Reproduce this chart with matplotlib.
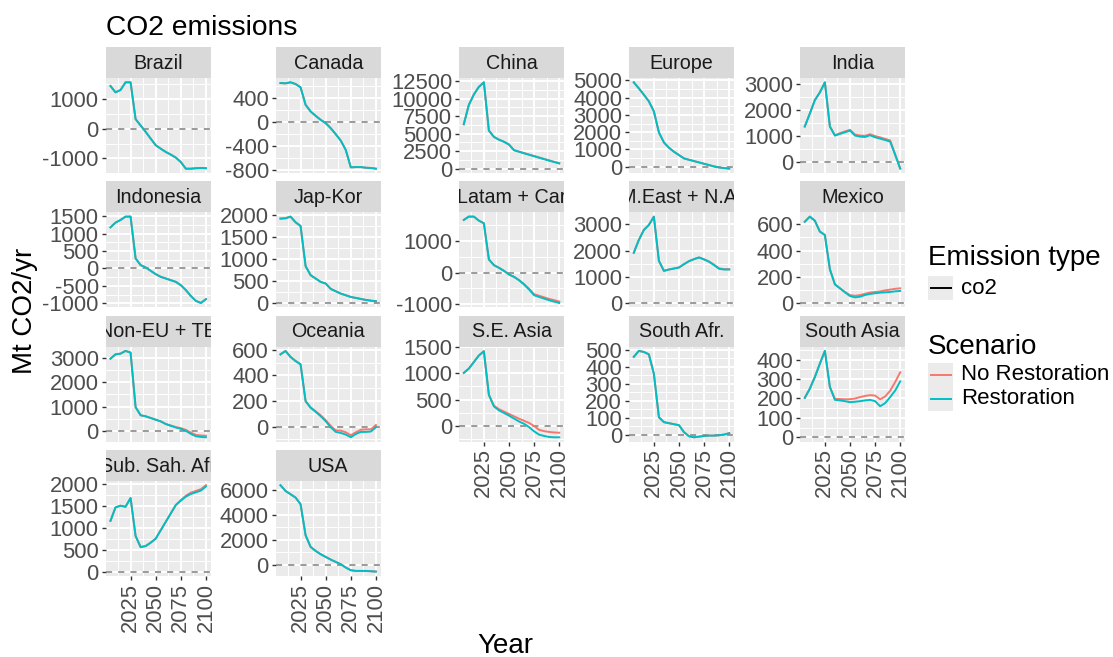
import numpy as np
import matplotlib
matplotlib.use("Agg")
import matplotlib.pyplot as plt
from matplotlib.patches import Rectangle

plt.rcParams['font.family'] = ['Liberation Sans', 'DejaVu Sans']
plt.rcParams['axes.unicode_minus'] = False

# canvas size in pixels (dpi 100)
W, H = 1113, 657
DPI = 100

years = np.arange(2005, 2101, 5)

# Mt CO2/yr per region, Restoration vs No Restoration scenario
brazil_rest = [1446, 1232, 1310, 1570, 1570, 328, 113, -100, -330, -553, -670, -780, -870, -970, -1120, -1345, -1345, -1330, -1320, -1330]
brazil_norest = [1446, 1232, 1310, 1570, 1570, 328, 113, -100, -330, -553, -670, -780, -870, -970, -1120, -1345, -1345, -1330, -1320, -1330]

canada_rest = [653, 648, 665, 637, 581, 290, 179, 106, 39, -17, -100, -201, -307, -464, -754, -749, -749, -760, -765, -776]
canada_norest = [653, 648, 665, 637, 581, 290, 179, 106, 39, -17, -100, -201, -307, -464, -754, -749, -749, -760, -765, -776]

china_rest = [6350, 9100, 10600, 11700, 12350, 5450, 4550, 4150, 3850, 3450, 2640, 2420, 2200, 1990, 1780, 1570, 1360, 1150, 950, 750]
china_norest = [6350, 9100, 10600, 11700, 12350, 5450, 4550, 4150, 3850, 3450, 2650, 2440, 2230, 2020, 1810, 1600, 1390, 1180, 980, 780]

europe_rest = [4884, 4537, 4170, 3784, 3205, 1988, 1409, 1100, 869, 676, 483, 405, 328, 251, 174, 97, 19, -39, -77, -110]
europe_norest = [4884, 4537, 4170, 3784, 3205, 1988, 1409, 1100, 869, 676, 483, 405, 328, 251, 174, 97, 19, -39, -70, -95]

india_rest = [1369, 1865, 2386, 2686, 3077, 1369, 1017, 1082, 1147, 1212, 1017, 978, 965, 1030, 952, 900, 847, 782, 270, -261]
india_norest = [1369, 1865, 2386, 2686, 3077, 1369, 1030, 1110, 1180, 1240, 1060, 1020, 1010, 1070, 1000, 950, 890, 830, 290, -250]

indonesia_rest = [1179, 1313, 1390, 1486, 1486, 288, 96, 29, -67, -163, -240, -288, -336, -384, -479, -620, -790, -930, -990, -880]
indonesia_norest = [1179, 1313, 1390, 1486, 1486, 288, 96, 29, -67, -163, -240, -288, -336, -384, -479, -620, -790, -930, -990, -880]

japkor_rest = [1924, 1931, 1969, 1840, 1756, 840, 634, 557, 481, 443, 321, 267, 214, 176, 137, 115, 92, 69, 53, 40]
japkor_norest = [1924, 1931, 1969, 1840, 1756, 840, 634, 557, 481, 443, 321, 267, 214, 176, 137, 115, 92, 69, 53, 40]

latam_rest = [1667, 1772, 1772, 1646, 1561, 418, 238, 153, 58, -58, -132, -238, -376, -534, -714, -767, -820, -873, -915, -958]
latam_norest = [1667, 1772, 1772, 1646, 1561, 418, 238, 153, 58, -58, -132, -238, -360, -510, -680, -730, -780, -830, -870, -910]

meast_rest = [1916, 2401, 2784, 2976, 3295, 1609, 1226, 1277, 1315, 1354, 1481, 1596, 1673, 1737, 1660, 1571, 1443, 1303, 1277, 1277]
meast_norest = [1916, 2401, 2784, 2976, 3295, 1609, 1226, 1277, 1315, 1354, 1481, 1596, 1673, 1737, 1665, 1580, 1455, 1320, 1290, 1290]

mexico_rest = [620, 659, 628, 545, 519, 257, 142, 112, 81, 53, 43, 48, 61, 69, 74, 79, 81, 84, 89, 92]
mexico_norest = [620, 659, 628, 545, 519, 257, 142, 112, 84, 60, 55, 60, 70, 80, 84, 88, 96, 102, 108, 112]

noneu_rest = [2971, 3152, 3180, 3292, 3222, 976, 642, 600, 530, 460, 390, 279, 209, 139, 84, 0, -126, -223, -251, -265]
noneu_norest = [2971, 3152, 3180, 3292, 3222, 976, 642, 600, 530, 460, 390, 285, 220, 155, 110, 40, -70, -170, -190, -200]

oceania_rest = [565, 592, 545, 513, 487, 199, 147, 115, 81, 42, -5, -42, -50, -63, -84, -58, -42, -42, -39, -5]
oceania_norest = [565, 592, 545, 513, 487, 199, 150, 120, 88, 50, 5, -30, -32, -45, -68, -45, -25, -22, -22, 12]

seasia_rest = [1004, 1084, 1208, 1332, 1413, 589, 372, 297, 248, 198, 143, 87, 43, -19, -99, -161, -186, -205, -211, -211]
seasia_norest = [1004, 1084, 1208, 1332, 1413, 589, 385, 320, 275, 230, 185, 140, 100, 60, 0, -70, -95, -110, -120, -125]

southafr_rest = [457, 492, 486, 472, 358, 102, 73, 67, 61, 55, 14, -10, -16, -12, -8, -6, -6, -4, 0, 8]
southafr_norest = [457, 492, 486, 472, 358, 102, 73, 67, 61, 55, 14, -10, -16, -12, -8, -6, -6, -4, 0, 8]

southasia_rest = [203, 250, 310, 379, 445, 259, 193, 190, 186, 181, 183, 186, 190, 193, 186, 160, 176, 207, 241, 288]
southasia_norest = [203, 250, 310, 379, 445, 259, 198, 197, 196, 196, 200, 207, 213, 217, 215, 196, 210, 240, 285, 335]

subsah_rest = [1157, 1464, 1502, 1479, 1678, 812, 559, 582, 659, 751, 943, 1134, 1326, 1517, 1617, 1709, 1770, 1808, 1847, 1939]
subsah_norest = [1157, 1464, 1502, 1479, 1678, 812, 559, 582, 659, 751, 943, 1134, 1326, 1517, 1630, 1730, 1800, 1840, 1880, 1970]

usa_rest = [6347, 5893, 5627, 5360, 4827, 2347, 1413, 1093, 827, 613, 400, 213, 27, -240, -453, -507, -507, -507, -533, -560]
usa_norest = [6347, 5893, 5627, 5360, 4827, 2347, 1413, 1093, 827, 613, 400, 213, 27, -240, -453, -507, -507, -507, -533, -560]

region_names = ["Brazil", "Canada", "China", "Europe", "India",
                "Indonesia", "Jap-Kor", "Latam + Car", "M.East + N.Af", "Mexico",
                "Non-EU + TE", "Oceania", "S.E. Asia", "South Afr.", "South Asia",
                "Sub. Sah. Afr", "USA"]
series_norest = [brazil_norest, canada_norest, china_norest, europe_norest, india_norest,
                 indonesia_norest, japkor_norest, latam_norest, meast_norest, mexico_norest,
                 noneu_norest, oceania_norest, seasia_norest, southafr_norest, southasia_norest,
                 subsah_norest, usa_norest]
series_rest = [brazil_rest, canada_rest, china_rest, europe_rest, india_rest,
               indonesia_rest, japkor_rest, latam_rest, meast_rest, mexico_rest,
               noneu_rest, oceania_rest, seasia_rest, southafr_rest, southasia_rest,
               subsah_rest, usa_rest]
y_breaks = [[-1000, 0, 1000], [-800, -400, 0, 400], [0, 2500, 5000, 7500, 10000, 12500],
            [0, 1000, 2000, 3000, 4000, 5000], [0, 1000, 2000, 3000],
            [-1000, -500, 0, 500, 1000, 1500], [0, 500, 1000, 1500, 2000], [-1000, 0, 1000],
            [0, 1000, 2000, 3000], [0, 200, 400, 600],
            [0, 1000, 2000, 3000], [0, 200, 400, 600], [0, 500, 1000, 1500],
            [0, 100, 200, 300, 400, 500], [0, 100, 200, 300, 400],
            [0, 500, 1000, 1500, 2000], [0, 2000, 4000, 6000]]
x_breaks = [2025, 2050, 2075, 2100]

scenarios = ["No Restoration", "Restoration"]
scen_colors = ["#F8766D", "#00BFC4"]

# layout (pixels)
col_x = [105.7, 275.7, 459.0, 629.0, 800.0]
panel_w = 105.0
strip_h = 31.0
panel_h = 95.0
row_y = [47.0, 181.3, 315.6, 449.9]

TICK_FS = 15.8
STRIP_FS = 14.2

fig = plt.figure(figsize=(W / DPI, H / DPI), dpi=DPI)
fig.patch.set_facecolor("white")


def px_axes(x0, y0, w, h):
    return fig.add_axes([x0 / W, 1 - (y0 + h) / H, w / W, h / H])


def minor_breaks(br, lo, hi):
    step = br[1] - br[0]
    ext = [br[0] - step] + list(br) + [br[-1] + step]
    mids = [(a + b) / 2 for a, b in zip(ext[:-1], ext[1:])]
    return [m for m in mids if lo <= m <= hi]


x_lo = years[0] - 0.05 * (years[-1] - years[0])
x_hi = years[-1] + 0.05 * (years[-1] - years[0])
n = len(region_names)

for i, name in enumerate(region_names):
    row, col = divmod(i, 5)
    bottom = (row + 1) * 5 + col >= n
    x0 = col_x[col]
    top = row_y[row]

    # strip
    sax = px_axes(x0, top, panel_w, strip_h)
    sax.set_facecolor("#D9D9D9")
    sax.set_xticks([])
    sax.set_yticks([])
    for sp in sax.spines.values():
        sp.set_visible(False)
    sax.text(0.5, 0.48, name, transform=sax.transAxes, ha="center", va="center",
             fontsize=STRIP_FS, color="#1A1A1A", clip_on=True)

    ax = px_axes(x0, top + strip_h, panel_w, panel_h)
    ax.set_facecolor("#EBEBEB")
    for sp in ax.spines.values():
        sp.set_visible(False)

    vals = np.array(series_norest[i] + series_rest[i] + [0])
    lo, hi = vals.min(), vals.max()
    pad = 0.05 * (hi - lo)
    ylo, yhi = lo - pad, hi + pad
    ax.set_ylim(ylo, yhi)
    ax.set_xlim(x_lo, x_hi)

    br = y_breaks[i]
    ax.set_yticks(br)
    ax.set_yticklabels([str(b) for b in br])
    ax.set_yticks(minor_breaks(br, ylo, yhi), minor=True)
    ax.set_xticks(x_breaks)
    ax.set_xticks([2012.5, 2037.5, 2062.5, 2087.5], minor=True)

    ax.grid(which="major", color="white", lw=1.4)
    ax.grid(which="minor", color="white", lw=0.7)
    ax.set_axisbelow(True)

    ax.tick_params(which="major", length=2.75, width=1.0, color="#333333",
                   labelsize=TICK_FS, labelcolor="#4D4D4D", pad=2.2)
    ax.tick_params(which="minor", length=0)
    if bottom:
        ax.set_xticklabels([str(b) for b in x_breaks], rotation=90)
    else:
        ax.tick_params(axis="x", which="major", length=0, labelbottom=False)

    ax.axhline(0, color="#7F7F7F", lw=1.1, ls=(0, (4, 4)), zorder=1.5)
    ax.plot(years, series_norest[i], color=scen_colors[0], lw=1.4, zorder=2)
    ax.plot(years, series_rest[i], color=scen_colors[1], lw=1.4, zorder=2.1)

# overlay in pixel coordinates for titles and legend
ov = fig.add_axes([0, 0, 1, 1], facecolor="none")
ov.set_xlim(0, W)
ov.set_ylim(H, 0)
ov.axis("off")

ov.text(106, 35, "CO2 emissions", fontsize=20.3, color="black", va="baseline", ha="left")
ov.text(505, 653, "Year", fontsize=20, color="black", va="baseline", ha="center")
ov.text(25, 311, "Mt CO2/yr", fontsize=20, color="black", va="center", ha="center", rotation=90)

# legend: emission type
ov.text(928, 265, "Emission type", fontsize=20, va="baseline", ha="left")
ov.add_patch(Rectangle((928, 276), 25, 24, facecolor="#EBEBEB", edgecolor="none"))
ov.plot([930.5, 950.5], [288, 288], color="black", lw=1.4)
ov.text(961, 288, "co2", fontsize=16, va="center", ha="left")

# legend: scenario
ov.text(928, 354, "Scenario", fontsize=20, va="baseline", ha="left")
for k, (lab, colr) in enumerate(zip(scenarios, scen_colors)):
    ky = 363 + k * 24
    ov.add_patch(Rectangle((928, ky), 25, 24, facecolor="#EBEBEB", edgecolor="none"))
    ov.plot([930.5, 950.5], [ky + 12, ky + 12], color=colr, lw=1.4)
    ov.text(961, ky + 12, lab, fontsize=16, va="center", ha="left")

fig.savefig("out.png", dpi=DPI)
